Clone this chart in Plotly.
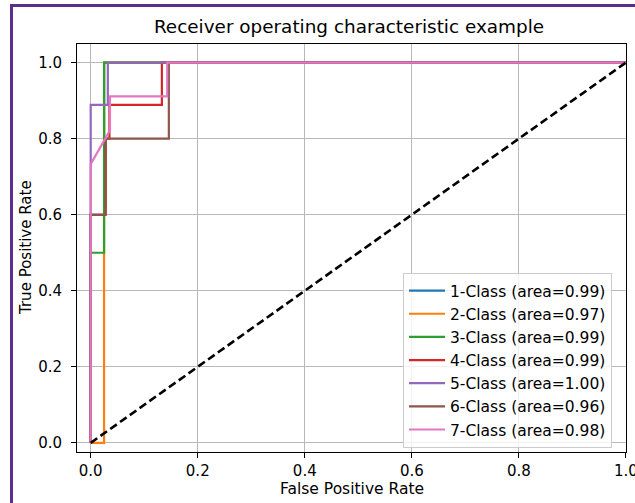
import plotly.graph_objects as go

# ---- data ----
class_names = ["1-Class", "2-Class", "3-Class", "4-Class", "5-Class", "6-Class", "7-Class"]
areas = [0.99, 0.97, 0.99, 0.99, 1.00, 0.96, 0.98]
fpr_1 = [0, 0, 0.025, 0.025, 1]
tpr_1 = [0, 0.6, 0.6, 1, 1]
fpr_2 = [0, 0.025, 0.025, 1]
tpr_2 = [0, 0, 1, 1]
fpr_3 = [0, 0, 0.025, 0.025, 1]
tpr_3 = [0, 0.5, 0.5, 1, 1]
fpr_4 = [0, 0, 0.028, 0.028, 0.035, 0.035, 0.133, 0.133, 1]
tpr_4 = [0, 0.6, 0.6, 0.8, 0.8, 0.889, 0.889, 1, 1]
fpr_5 = [0, 0, 0.032, 0.032, 1]
tpr_5 = [0, 0.889, 0.889, 1, 1]
fpr_6 = [0, 0, 0.028, 0.028, 0.146, 0.146, 1]
tpr_6 = [0, 0.6, 0.6, 0.8, 0.8, 1, 1]
fpr_7 = [0, 0, 0.036, 0.036, 0.143, 0.143, 1]
tpr_7 = [0, 0.733, 0.822, 0.911, 0.911, 1, 1]
chance_x = [0, 1]
chance_y = [0, 1]
tick_vals = [0.0, 0.2, 0.4, 0.6, 0.8, 1.0]

fprs = [fpr_1, fpr_2, fpr_3, fpr_4, fpr_5, fpr_6, fpr_7]
tprs = [tpr_1, tpr_2, tpr_3, tpr_4, tpr_5, tpr_6, tpr_7]
colors = ["#1f77b4", "#ff7f0e", "#2ca02c", "#d62728", "#9467bd", "#8c564b", "#e377c2"]

W, H = 635, 503
L, R, T, B = 77, 9, 44, 51
PW, PH = W - L - R, H - T - B

fig = go.Figure()
for name, a, fx, ty, c in zip(class_names, areas, fprs, tprs, colors):
    fig.add_trace(go.Scatter(x=fx, y=ty, mode="lines", name=f"{name} (area={a:.2f})",
                             line=dict(color=c, width=2.2)))
fig.add_trace(go.Scatter(x=chance_x, y=chance_y, mode="lines", showlegend=False,
                         line=dict(color="black", width=2.6, dash="8px,4px")))

font = "DejaVu Sans"
axis_common = dict(showgrid=True, gridcolor="#b8b8b8", gridwidth=1, zeroline=False,
                   showline=True, linecolor="black", linewidth=1, mirror=True,
                   ticks="outside", ticklen=5, tickcolor="black", tickwidth=1,
                   tickvals=tick_vals, tickformat=".1f", ticklabeloverflow="allow",
                   automargin=False,
                   tickfont=dict(family=font, size=15, color="black"))
fig.update_xaxes(range=[-0.0256, 1.0002], **axis_common)
fig.update_yaxes(range=[-0.024, 1.049], ticklabelstandoff=6, **axis_common)


def px_x(p):
    return (p - L) / PW


def px_y(p):
    return (H - B - p) / PH


fig.update_layout(
    width=W, height=H,
    margin=dict(l=L, r=R, t=T, b=B, autoexpand=False),
    paper_bgcolor="white", plot_bgcolor="white",
    font=dict(family=font, color="black"),
    title=dict(text="Receiver operating characteristic example", x=349 / W, xanchor="center",
               y=1 - 27 / H, yanchor="middle", font=dict(family=font, size=18.4, color="black")),
    legend=dict(x=px_x(612), xanchor="right", y=px_y(448), yanchor="bottom",
                bgcolor="rgba(255,255,255,0.8)", bordercolor="#cccccc", borderwidth=1,
                itemwidth=36,
                font=dict(family=font, size=15.5, color="black")),
    showlegend=True,
    annotations=[
        dict(text="False Positive Rate", xref="paper", yref="paper", x=0.5, y=0,
             xanchor="center", yanchor="middle", yshift=-(489 - (H - B)), showarrow=False,
             font=dict(family=font, size=15.5, color="black")),
        dict(text="True Positive Rate", xref="paper", yref="paper", x=0, y=0.5,
             xanchor="center", yanchor="middle", xshift=-(L - 26), textangle=-90, showarrow=False,
             font=dict(family=font, size=15, color="black")),
    ],
    shapes=[
        dict(type="rect", xref="paper", yref="paper", x0=px_x(11.5), x1=px_x(760),
             y0=px_y(5.5), y1=px_y(620), line=dict(color="#5b2d91", width=3),
             fillcolor="rgba(0,0,0,0)", layer="above"),
    ],
)

fig.write_html("out.html")
